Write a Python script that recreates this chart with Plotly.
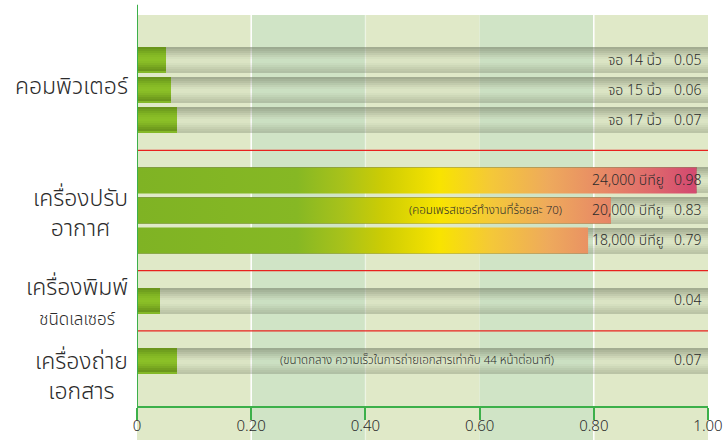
import plotly.graph_objects as go

# Energy use per hour of office equipment (kWh)
computer_items = ["จอ 14 นิ้ว", "จอ 15 นิ้ว", "จอ 17 นิ้ว"]
computer_kwh = [0.05, 0.06, 0.07]
aircon_items = ["24,000 บีทียู", "20,000 บีทียู", "18,000 บีทียู"]
aircon_kwh = [0.98, 0.83, 0.79]
printer_kwh = [0.04]
copier_kwh = [0.07]

group_names = ["คอมพิวเตอร์", "เครื่องปรับ<br>อากาศ",
               "เครื่องพิมพ์<br><span style='font-size:17px'>ชนิดเลเซอร์</span>",
               "เครื่องถ่าย<br>เอกสาร"]
aircon_note = "(คอมเพรสเซอร์ทำงานที่ร้อยละ 70)"
copier_note = "(ขนาดกลาง ความเร็วในการถ่ายเอกสารเท่ากับ 44 หน้าต่อนาที)"

x_tick_vals = [0, 0.2, 0.4, 0.6, 0.8, 1.0]
x_tick_text = ["0", "0.20", "0.40", "0.60", "0.80", "1.00"]

FONT = "Noto Sans Thai, Noto Sans, Liberation Sans, sans-serif"
TEXT = "#2b2b2b"
AXIS_GREEN = "#3cb04a"

# Row slots (top to bottom); dividers sit in the gap rows
computer_rows = [1, 2, 3]
aircon_rows = [5, 6, 7]
printer_rows = [9]
copier_rows = [11]
divider_rows = [4, 8, 10]
HALF = 13 / 30
N_STRIPS = 13
STRIP = 2 * HALF / N_STRIPS

# cylinder shading, one colour per horizontal strip (top to bottom)
green_strips = ["#6b951c", "#70a01e", "#78aa20", "#80b423", "#86ba25", "#8abe27",
                "#8bc027", "#88bc26", "#82b424", "#7aaa21", "#729f1e", "#6c971c",
                "#84b828"]
track_alpha = [0.52, 0.44, 0.35, 0.26, 0.17, 0.09, 0.04, 0.04, 0.09, 0.15,
               0.22, 0.28, 0.32]
shade_alpha = [0.36, 0.27, 0.19, 0.12, 0.05, 0.0, 0.0, 0.0, 0.05, 0.11,
               0.18, 0.26, 0.32]
heat_scale = [[0, "#7fb324"], [0.28, "#86b824"], [0.36, "#a8c21a"],
              [0.43, "#cccc04"], [0.53, "#f8e400"], [0.62, "#f4c838"],
              [0.72, "#eeaa5c"], [0.82, "#e78866"], [0.9, "#df6a6c"],
              [0.97, "#d44c70"], [1, "#d24870"]]

all_rows = computer_rows + aircon_rows + printer_rows + copier_rows
plain_rows = computer_rows + printer_rows + copier_rows
plain_vals = computer_kwh + printer_kwh + copier_kwh

fig = go.Figure()


def strip_bars(vals, rows, colors):
    for k, c in enumerate(colors):
        fig.add_trace(go.Bar(
            x=vals, y=rows, orientation="h", base=0, width=STRIP,
            offset=-HALF + k * STRIP, marker=dict(color=c, line=dict(width=0)),
            hoverinfo="skip", showlegend=False))


# background tracks spanning the full scale
strip_bars([1.0] * len(all_rows), all_rows,
           [f"rgba(110,118,95,{a})" for a in track_alpha])

# plain green bars
strip_bars(plain_vals, plain_rows, green_strips)

# air-conditioner bars: heat gradient along the value, then shading on top
for r, v in zip(aircon_rows, aircon_kwh):
    fig.add_trace(go.Scatter(
        x=[0, v, v, 0, 0], y=[r - HALF, r - HALF, r + HALF, r + HALF, r - HALF],
        mode="lines", line=dict(width=0), fill="toself",
        fillgradient=dict(type="horizontal", colorscale=heat_scale, start=0, stop=1),
        hoverinfo="skip", showlegend=False))
strip_bars(aircon_kwh, aircon_rows, [f"rgba(70,70,0,{a})" for a in shade_alpha])

shapes = []
BOTTOM = -34 / 391
band_colors = ["#e0e9c8", "#d0e4c6", "#e0e9c8", "#d0e4c6", "#e0e9c8"]
for i, c in enumerate(band_colors):
    shapes.append(dict(type="rect", xref="x", yref="paper", x0=x_tick_vals[i],
                       x1=x_tick_vals[i + 1], y0=BOTTOM, y1=1, fillcolor=c,
                       line=dict(width=0), layer="below"))
for xv, col in [(0.2, "white"), (0.8, "white"), (0.4, "rgba(255,255,255,0.35)")]:
    shapes.append(dict(type="line", xref="x", yref="paper", x0=xv, x1=xv,
                       y0=BOTTOM, y1=1, line=dict(color=col, width=1.5), layer="below"))
for r in divider_rows:
    shapes.append(dict(type="line", xref="x", yref="y", x0=0, x1=1, y0=r, y1=r,
                       line=dict(color="#e8221e", width=1.2)))
shapes.append(dict(type="line", xref="x", yref="paper", x0=0, x1=0, y0=-0.031,
                   y1=1.026, line=dict(color=AXIS_GREEN, width=2)))

ann = []


def label(x, y, text, size, anchor="right", xshift=0, weight=400):
    ann.append(dict(x=x, y=y, xref="x", yref="y", text=text, showarrow=False,
                    xanchor=anchor, yanchor="middle", xshift=xshift,
                    font=dict(family=FONT, size=size, color=TEXT, weight=weight)))


# value labels at the right end of every track
for rows, vals in [(computer_rows, computer_kwh), (aircon_rows, aircon_kwh),
                   (printer_rows, printer_kwh), (copier_rows, copier_kwh)]:
    for r, v in zip(rows, vals):
        label(1.0, r, f"{v:.2f}", 14, xshift=-5, weight=300)
for r, t in zip(computer_rows, computer_items):
    label(1.0, r, t, 14, xshift=-44, weight=300)
for r, t in zip(aircon_rows, aircon_items):
    label(1.0, r, t, 14, xshift=-42, weight=300)
label(0.61, aircon_rows[1], aircon_note, 11.5, anchor="center", weight=300)
label(0.49, copier_rows[0], copier_note, 11.5, anchor="center", weight=300)

# category names on the left
for y, t in zip([1.9, 6.1, 9.05, 11.53], group_names):
    label(0, y, t, 23, xshift=-7, weight=300)

fig.update_layout(
    width=723, height=440,
    margin=dict(l=137, r=15, t=15, b=34, pad=0),
    paper_bgcolor="white", plot_bgcolor="rgba(0,0,0,0)",
    barmode="overlay", bargap=0,
    shapes=shapes, annotations=ann, showlegend=False,
    xaxis=dict(range=[0, 1.0], tickvals=x_tick_vals, ticktext=x_tick_text,
               showgrid=False, zeroline=False, showline=True, automargin=False,
               linecolor=AXIS_GREEN, linewidth=1.5, ticks="outside",
               ticklen=12, tickcolor=AXIS_GREEN, tickwidth=1.5,
               ticklabeloverflow="allow", ticklabelstandoff=-7,
               tickfont=dict(family=FONT, size=15, color=TEXT, weight=300)),
    yaxis=dict(range=[12.5, -0.5], showticklabels=False, showgrid=False,
               zeroline=False, showline=False, ticks="", automargin=False),
)

fig.write_html("out.html")
